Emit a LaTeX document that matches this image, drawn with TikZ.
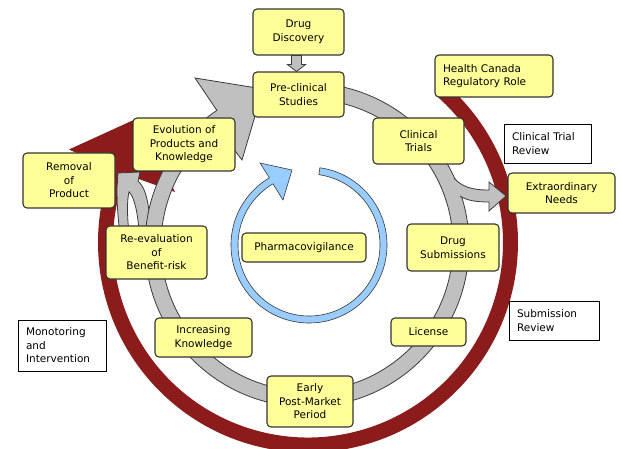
\documentclass[tikz,border=0pt]{standalone}
\usepackage{fontspec}
\setmainfont{DejaVu Sans}
\usetikzlibrary{calc}
\definecolor{yfill}{HTML}{FFFF99}
\definecolor{grayfill}{HTML}{C0C0C0}
\definecolor{redfill}{HTML}{8C1B1B}
\definecolor{bluefill}{HTML}{99CCFF}
\definecolor{ringline}{HTML}{3A3A3A}
\definecolor{boxline}{HTML}{333333}
\begin{document}
\begin{tikzpicture}[x=1pt,y=1pt,font=\fontsize{10.5}{13.5}\selectfont,
  ybox/.style={draw=boxline, fill=yfill, rounded corners=4pt, line width=1.1pt, align=center, inner sep=0pt},
  wbox/.style={draw=black, fill=white, line width=0.8pt, align=left, inner xsep=8pt, inner ysep=0pt},
  grayband/.style={fill=grayfill, draw=ringline, line width=0.8pt},
  blueband/.style={fill=bluefill, draw=ringline, line width=0.6pt}]
\useasboundingbox (0,0) rectangle (621,-449);

% red regulatory ring
\begin{scope}[shift={(308,-242.5)}]
\fill[redfill] (44.8:210) arc[start angle=44.8, end angle=-200.5, radius=210]
  -- (-239,93) -- (-170,124.5) -- (-133,50.5)
  -- (-200.5:195) arc[start angle=-200.5, end angle=49.4, radius=195] -- cycle;
\end{scope}

% gray branch towards Removal of Product
\filldraw[grayband] (150,-233) .. controls (150,-205) and (146,-188) .. (138,-181)
  -- (140,-172) -- (118,-173) -- (117,-188)
  .. controls (117,-205) and (118,-220) .. (120,-233)
  -- (129,-233) .. controls (127,-215) and (127,-200) .. (129,-192)
  .. controls (133,-195) and (138,-210) .. (139,-233) -- cycle;

% gray main ring
\begin{scope}[shift={(307,-245)}]
\filldraw[grayband] (95:162) arc[start angle=95, end angle=-236.2, radius=162]
  -- (-112,167) -- (-44,156) -- (-65,85)
  -- (-232.6:146) arc[start angle=-232.6, end angle=95, radius=146] -- cycle;
\end{scope}

% gray branch towards Extraordinary Needs
\fill[grayfill] (454,-178) .. controls (462,-187) and (472,-190) .. (489,-190)
  -- (489,-182) -- (506,-196) -- (489,-211) -- (489,-202)
  .. controls (474,-202) and (466,-200) .. (460,-196) -- (446,-190) -- cycle;
\draw[ringline, line width=0.8pt] (454,-178) .. controls (462,-187) and (472,-190) .. (489,-190)
  -- (489,-182) -- (506,-196) -- (489,-211) -- (489,-202)
  .. controls (474,-202) and (466,-200) .. (460,-196);

% blue pharmacovigilance ring
\begin{scope}[shift={(309,-245)}]
\filldraw[blueband] (82:78) arc[start angle=82, end angle=-239.5, radius=78]
  -- (-49,82) -- (-17,75) -- (-26,45)
  -- (-239.5:71) arc[start angle=-239.5, end angle=82, radius=71] -- cycle;
\end{scope}

% boxes
\node[ybox, minimum width=91pt, minimum height=46pt] (dd) at (298.5,-32) {Drug\\Discovery};
\node[ybox, minimum width=91pt, minimum height=45pt] (pc) at (298.5,-94.5) {Pre-clinical\\Studies};
\node[ybox, align=left, text width=102pt, inner xsep=8pt, minimum height=42pt] (hc) at (494,-76) {Health Canada\\Regulatory Role};
\node[ybox, minimum width=91pt, minimum height=46pt] (ct) at (418.5,-141) {Clinical\\Trials};
\node[wbox, text width=71pt, minimum height=39pt] (ctr) at (547.5,-143.5) {Clinical Trial\\Review};
\node[ybox, minimum width=107pt, minimum height=40pt] (en) at (561.5,-193) {Extraordinary\\Needs};
\node[ybox, minimum width=92pt, minimum height=47pt] (ds) at (453,-247.5) {Drug\\Submissions};
\node[wbox, text width=74pt, minimum height=39pt] (sr) at (554,-320.5) {Submission\\Review};
\node[ybox, minimum width=75pt, minimum height=28pt] (li) at (428.5,-332) {License};
\node[ybox, minimum width=86pt, minimum height=51pt] (ep) at (310,-401.5) {Early\\Post-Market\\Period};
\node[ybox, minimum width=97pt, minimum height=39pt] (ik) at (203.5,-337.5) {Increasing\\Knowledge};
\node[wbox, text width=72pt, minimum height=51pt] (mi) at (62,-345.5) {Monotoring\\and\\Intervention};
\node[ybox, minimum width=101pt, minimum height=53pt] (re) at (156.5,-252.5) {Re-evaluation\\of\\Benefit-risk};
\node[ybox, minimum width=124pt, minimum height=29pt] (ph) at (304,-247.5) {Pharmacovigilance};
\node[ybox, minimum width=92pt, minimum height=55pt] (rp) at (69,-180.5) {Removal\\of\\Product};
\node[ybox, minimum width=102pt, minimum height=53pt] (ev) at (184,-144.5) {Evolution of\\Products and\\Knowledge};

% Drug Discovery -> Pre-clinical Studies
\coordinate (ddb) at ($(dd.south)+(-2,0)$);
\coordinate (pct) at ($(pc.north)+(-2,0)$);
\filldraw[grayband] ($(ddb)+(-5,0)$) -- ($(ddb)+(-5,-9)$) -- ($(ddb)+(-9,-9)$) -- (pct)
  -- ($(ddb)+(9,-9)$) -- ($(ddb)+(5,-9)$) -- ($(ddb)+(5,0)$) -- cycle;
\end{tikzpicture}
\end{document}
